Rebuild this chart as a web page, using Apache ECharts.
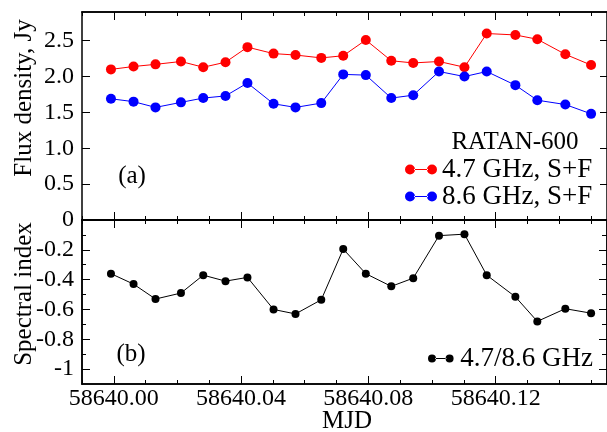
<!DOCTYPE html>
<html>
<head>
<meta charset="utf-8">
<script src="https://cdn.jsdelivr.net/npm/echarts@6/dist/echarts.min.js"></script>
<style>
html,body{margin:0;padding:0;background:#fff;}
#chart{width:607px;height:432px;}
</style>
</head>
<body>
<div id="chart"></div>
<script>
// ---- data ----
const mjd = [58639.9991, 58640.0062, 58640.0131, 58640.0211, 58640.0281, 58640.0351, 58640.0420,
  58640.0502, 58640.0571, 58640.0652, 58640.0721, 58640.0792, 58640.0872, 58640.0941,
  58640.1022, 58640.1102, 58640.1172, 58640.1262, 58640.1331, 58640.1419, 58640.1500];
const flux47 = [2.10, 2.14, 2.17, 2.21, 2.13, 2.20, 2.41, 2.32, 2.30, 2.26, 2.29, 2.51, 2.22, 2.19,
  2.21, 2.13, 2.60, 2.58, 2.52, 2.31, 2.16];
const flux86 = [1.69, 1.65, 1.57, 1.64, 1.70, 1.73, 1.91, 1.62, 1.57, 1.63, 2.03, 2.02, 1.70, 1.74,
  2.07, 2.00, 2.07, 1.88, 1.67, 1.61, 1.48];
const specIndex = [-0.36, -0.43, -0.53, -0.49, -0.37, -0.41, -0.385, -0.60, -0.63, -0.535, -0.195,
  -0.36, -0.445, -0.39, -0.105, -0.095, -0.37, -0.515, -0.68, -0.595, -0.625];
const xMajorTicks = [58640.00, 58640.04, 58640.08, 58640.12];
const xMinorTicks = [58639.99, 58640.01, 58640.02, 58640.03, 58640.05, 58640.06, 58640.07,
  58640.09, 58640.10, 58640.11, 58640.13, 58640.14, 58640.15];
const fluxTicks = [0, 0.5, 1.0, 1.5, 2.0, 2.5];
const specMajorTicks = [0, -0.2, -0.4, -0.6, -0.8, -1];
const specMinorTicks = [-0.1, -0.3, -0.5, -0.7, -0.9];
const seriesNames = ['4.7 GHz, S+F', '8.6 GHz, S+F', '4.7/8.6 GHz'];

const X_MIN = 58639.99, X_MAX = 58640.155;
const FONT = 'Liberation Serif, Times New Roman, serif';
const black = '#000';

function xAx(grid, pos, ticks, len, labels) {
  return {
    type: 'value', gridIndex: grid, position: pos, min: X_MIN, max: X_MAX,
    axisLine: {show: true, onZero: false, lineStyle: {color: black, width: 1.5}},
    axisTick: {show: true, inside: true, length: len, customValues: ticks, lineStyle: {color: black, width: 1}},
    axisLabel: labels ? {show: true, customValues: labels, margin: 3, color: black,
      fontFamily: FONT, fontSize: 24, formatter: v => v.toFixed(2)} : {show: false},
    splitLine: {show: false}
  };
}
function yAx(grid, pos, min, max, ticks, len, labelFmt) {
  return {
    type: 'value', gridIndex: grid, position: pos, min: min, max: max,
    axisLine: {show: true, onZero: false, lineStyle: {color: black, width: 1.5}},
    axisTick: {show: true, inside: true, length: len, customValues: ticks, lineStyle: {color: black, width: 1}},
    axisLabel: labelFmt ? {show: true, customValues: ticks, margin: 8, color: black,
      fontFamily: FONT, fontSize: 24, formatter: labelFmt} : {show: false},
    splitLine: {show: false}
  };
}

const xAxes = [
  xAx(0, 'bottom', xMajorTicks, 8), xAx(0, 'bottom', xMinorTicks, 4),
  xAx(0, 'top', xMajorTicks, 8), xAx(0, 'top', xMinorTicks, 4),
  xAx(1, 'bottom', xMajorTicks, 8, xMajorTicks), xAx(1, 'bottom', xMinorTicks, 4),
  xAx(1, 'top', xMajorTicks, 8), xAx(1, 'top', xMinorTicks, 4)
];
const yAxes = [
  yAx(0, 'left', 0, 2.9, fluxTicks, 8, v => (v === 0 ? '' : v.toFixed(1))),
  yAx(0, 'right', 0, 2.9, fluxTicks, 7),
  yAx(1, 'left', -1.1, 0, specMajorTicks, 8, v => String(Math.round(v * 10) / 10)),
  yAx(1, 'left', -1.1, 0, specMinorTicks, 4),
  yAx(1, 'right', -1.1, 0, specMajorTicks, 8),
  yAx(1, 'right', -1.1, 0, specMinorTicks, 5)
];

const pairs = ys => mjd.map((x, i) => [x, ys[i]]);
const twoDots = 'path://M0,5a5,5 0 1,0 10,0a5,5 0 1,0 -10,0ZM22,5a5,5 0 1,0 10,0a5,5 0 1,0 -10,0ZM9,4.4L23,4.4L23,5.6L9,5.6Z';

const chart = echarts.init(document.getElementById('chart'), null, {renderer: 'canvas'});
chart.setOption({
  animation: false,
  backgroundColor: '#fff',
  grid: [
    {left: 82, top: 12, right: -2, height: 208, containLabel: false},
    {left: 82, top: 220, right: -2, height: 164, containLabel: false}
  ],
  xAxis: xAxes,
  yAxis: yAxes,
  legend: [
    {data: [seriesNames[0], seriesNames[1]], orient: 'vertical', left: 405, top: 156, padding: 0,
      itemGap: 0, itemWidth: 32, itemHeight: 11, icon: twoDots,
      textStyle: {fontFamily: FONT, fontSize: 27, color: black, lineHeight: 23}},
    {data: [seriesNames[2]], orient: 'vertical', left: 428, top: 345, padding: 0,
      itemWidth: 29, itemHeight: 8, icon: twoDots,
      textStyle: {fontFamily: FONT, fontSize: 27, color: black, lineHeight: 24}}
  ],
  graphic: [
    {type: 'text', x: 24, y: 98, rotation: Math.PI / 2,
      style: {text: 'Flux density, Jy', fill: black, font: '25px ' + FONT, textAlign: 'center', textVerticalAlign: 'middle'}},
    {type: 'text', x: 24, y: 294, rotation: Math.PI / 2,
      style: {text: 'Spectral index', fill: black, font: '25px ' + FONT, textAlign: 'center', textVerticalAlign: 'middle'}},
    {type: 'text', x: 347, y: 421,
      style: {text: 'MJD', fill: black, font: '25px ' + FONT, textAlign: 'center', textVerticalAlign: 'middle'}},
    {type: 'text', x: 132, y: 176,
      style: {text: '(a)', fill: black, font: '25px ' + FONT, textAlign: 'center', textVerticalAlign: 'middle'}},
    {type: 'text', x: 131, y: 354,
      style: {text: '(b)', fill: black, font: '25px ' + FONT, textAlign: 'center', textVerticalAlign: 'middle'}},
    {type: 'text', x: 515, y: 142,
      style: {text: 'RATAN-600', fill: black, font: '25px ' + FONT, textAlign: 'center', textVerticalAlign: 'middle'}}
  ],
  series: [
    {name: seriesNames[0], type: 'line', xAxisIndex: 0, yAxisIndex: 0, data: pairs(flux47),
      symbol: 'circle', symbolSize: 10, color: '#ff0000', lineStyle: {width: 1, color: '#ff0000'},
      itemStyle: {color: '#ff0000'}},
    {name: seriesNames[1], type: 'line', xAxisIndex: 0, yAxisIndex: 0, data: pairs(flux86),
      symbol: 'circle', symbolSize: 10, color: '#0000ff', lineStyle: {width: 1, color: '#0000ff'},
      itemStyle: {color: '#0000ff'}},
    {name: seriesNames[2], type: 'line', xAxisIndex: 4, yAxisIndex: 2, data: pairs(specIndex),
      symbol: 'circle', symbolSize: 8, color: '#000', lineStyle: {width: 1, color: '#000'},
      itemStyle: {color: '#000'}}
  ]
});
</script>
</body>
</html>
